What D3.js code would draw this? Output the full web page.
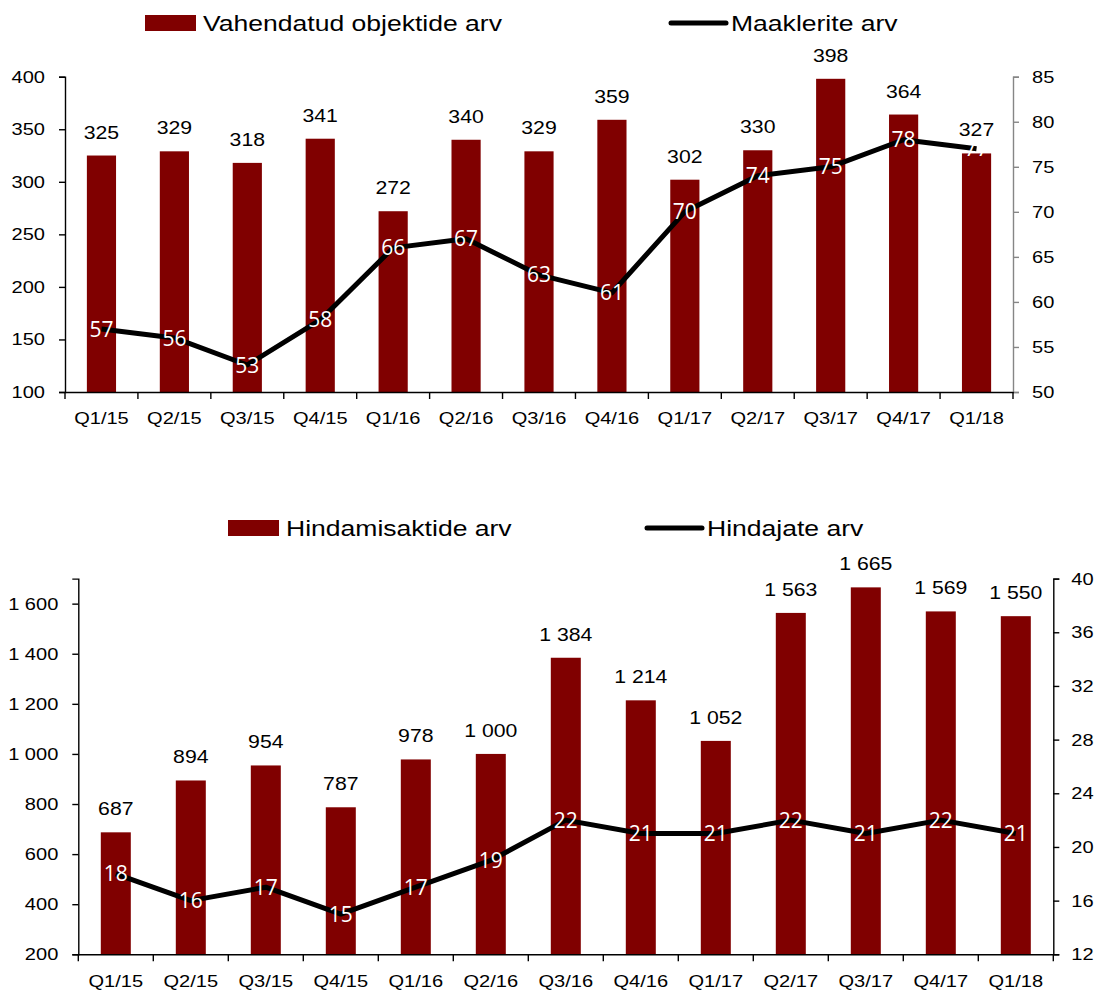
<!DOCTYPE html>
<html>
<head>
<meta charset="utf-8">
<script src="https://cdn.jsdelivr.net/npm/d3@7"></script>
<style>
  html, body { margin: 0; padding: 0; background: #fff; }
  svg { display: block; }
  text { font-family: "Liberation Sans", Arial, sans-serif; fill: #000; }
</style>
</head>
<body>
<svg id="chart" width="1098" height="990"></svg>
<script>
// Quarters shown on both panels
const quarters = ["Q1/15","Q2/15","Q3/15","Q4/15","Q1/16","Q2/16","Q3/16","Q4/16","Q1/17","Q2/17","Q3/17","Q4/17","Q1/18"];

// Upper panel: brokered objects (bars) and number of brokers (line)
const objectsBrokered = [325,329,318,341,272,340,329,359,302,330,398,364,327];
const brokerCount = [57,56,53,58,66,67,63,61,70,74,75,78,77];
const topLeftTicks = [100,150,200,250,300,350,400];
const topRightTicks = [50,55,60,65,70,75,80,85];

// Lower panel: valuation reports (bars) and number of appraisers (line)
const valuationReports = [687,894,954,787,978,1000,1384,1214,1052,1563,1665,1569,1550];
const appraiserCount = [18,16,17,15,17,19,22,21,21,22,21,22,21];
const bottomLeftTicks = [200,400,600,800,1000,1200,1400,1600];
const bottomRightTicks = [12,16,20,24,28,32,36,40];

const BAR = "#800000";
const SX = 1.18; // horizontal stretch of the Arial-style text

const loc = d3.formatLocale({decimal: ",", thousands: "\u00a0", grouping: [3], currency: ["", ""]});
const fmt = v => loc.format(",")(v).replace(/\u00a0/g, " ");

const svg = d3.select("#chart");

function stretch(sel) {
  sel.each(function () {
    const t = d3.select(this);
    const x = +t.attr("x") || 0, y = +t.attr("y") || 0;
    t.attr("transform", `translate(${x},${y}) scale(${SX},1) translate(${-x},${-y})`);
  });
}

function drawPanel(p) {
  const g = svg.append("g");
  const x = d3.scaleBand().domain(quarters).range([p.x0, p.x1]).padding(0);
  const yL = d3.scaleLinear().domain(p.leftDomain).range([p.yBottom, p.yTop]);
  const yR = d3.scaleLinear().domain(p.rightDomain).range([p.yBottom, p.yTop]);
  const bw = x.bandwidth() * 0.4;
  const cx = q => x(q) + x.bandwidth() / 2;

  // bars
  g.append("g").selectAll("rect").data(quarters).join("rect")
    .attr("x", q => cx(q) - bw / 2)
    .attr("width", bw)
    .attr("y", (q, i) => yL(p.bars[i]))
    .attr("height", (q, i) => yL(p.leftDomain[0]) - yL(p.bars[i]))
    .attr("fill", BAR);

  // bar value labels
  g.append("g").selectAll("text").data(quarters).join("text")
    .attr("x", q => cx(q))
    .attr("y", (q, i) => yL(p.bars[i]) - 17)
    .attr("text-anchor", "middle")
    .style("font-size", "18px")
    .text((q, i) => fmt(p.bars[i]))
    .call(stretch);

  // left axis
  const la = g.append("g").attr("transform", `translate(${p.x0},0)`)
    .call(d3.axisLeft(yL).tickValues(p.leftTicks).tickFormat(fmt).tickSizeOuter(0).tickSize(6).tickPadding(14));
  la.select(".domain").attr("stroke", "#000").attr("stroke-width", 1.4);
  la.selectAll(".tick line").attr("stroke", "#000").attr("stroke-width", 1.4);
  la.selectAll(".tick text").style("font-size", "17px").attr("font-family", null).call(stretch);

  // right axis
  const ra = g.append("g").attr("transform", `translate(${p.x1},0)`)
    .call(d3.axisRight(yR).tickValues(p.rightTicks).tickSizeOuter(0).tickSize(6).tickPadding(p.rightPad));
  ra.select(".domain").attr("stroke", p.rightColor).attr("stroke-width", 1.4);
  ra.selectAll(".tick line").attr("stroke", p.rightColor).attr("stroke-width", 1.4);
  ra.selectAll(".tick text").style("font-size", "17px").attr("font-family", null).call(stretch);

  // category axis: labels centred in bands, ticks on band boundaries
  const xa = g.append("g").attr("transform", `translate(0,${p.yBottom})`)
    .call(d3.axisBottom(x).tickSize(0).tickPadding(p.xPad).tickSizeOuter(0));
  xa.select(".domain").attr("stroke", "#000").attr("stroke-width", 1.4);
  xa.selectAll(".tick text").style("font-size", "17px").attr("font-family", null).call(stretch);
  const bounds = quarters.map(q => x(q)).concat([x.range()[1]]);
  xa.append("g").selectAll("line").data(bounds).join("line")
    .attr("x1", d => d).attr("x2", d => d).attr("y1", 0).attr("y2", 7)
    .attr("stroke", "#000").attr("stroke-width", 1.4);

  // line series on the right scale
  const line = d3.line().x((q) => cx(q)).y((q, i) => yR(p.line[i]));
  g.append("path").datum(quarters)
    .attr("d", line)
    .attr("fill", "none").attr("stroke", "#000")
    .attr("stroke-width", 5).attr("stroke-linejoin", "round");

  g.append("g").selectAll("text").data(quarters).join("text")
    .attr("x", q => cx(q))
    .attr("y", (q, i) => yR(p.line[i]))
    .attr("dy", "0.36em")
    .attr("text-anchor", "middle")
    .style("font-family", "'Open Sans', sans-serif")
    .style("font-size", "21px")
    .style("fill", "#fff")
    .text((q, i) => p.line[i]);

  // legend
  const lg = g.append("g");
  lg.append("rect").attr("x", p.leg.sx).attr("y", p.leg.cy - 8).attr("width", 51).attr("height", 16).attr("fill", BAR);
  lg.append("text").attr("x", p.leg.sx + 58).attr("y", p.leg.cy).attr("dy", "0.35em")
    .style("font-size", "22.5px").text(p.barName).call(stretch);
  lg.append("line").attr("x1", p.leg.lx).attr("x2", p.leg.lx + 55).attr("y1", p.leg.cy).attr("y2", p.leg.cy)
    .attr("stroke", "#000").attr("stroke-width", 5).attr("stroke-linecap", "round");
  lg.append("text").attr("x", p.leg.lx + 60).attr("y", p.leg.cy).attr("dy", "0.35em")
    .style("font-size", "22.5px").text(p.lineName).call(stretch);
}

drawPanel({
  x0: 65, x1: 1013, yTop: 76.7, yBottom: 392,
  leftDomain: [100, 400], rightDomain: [50, 85],
  leftTicks: topLeftTicks, rightTicks: topRightTicks,
  bars: objectsBrokered, line: brokerCount,
  rightColor: "#868686", rightPad: 13, xPad: 20,
  barName: "Vahendatud objektide arv", lineName: "Maaklerite arv",
  leg: {sx: 145, lx: 671, cy: 23}
});

drawPanel({
  x0: 78.3, x1: 1053.3, yTop: 578.6, yBottom: 954.3,
  leftDomain: [200, 1700], rightDomain: [12, 40],
  leftTicks: bottomLeftTicks, rightTicks: bottomRightTicks,
  bars: valuationReports, line: appraiserCount,
  rightColor: "#000", rightPad: 12, xPad: 21,
  barName: "Hindamisaktide arv", lineName: "Hindajate arv",
  leg: {sx: 228, lx: 647, cy: 528}
});
</script>
</body>
</html>
